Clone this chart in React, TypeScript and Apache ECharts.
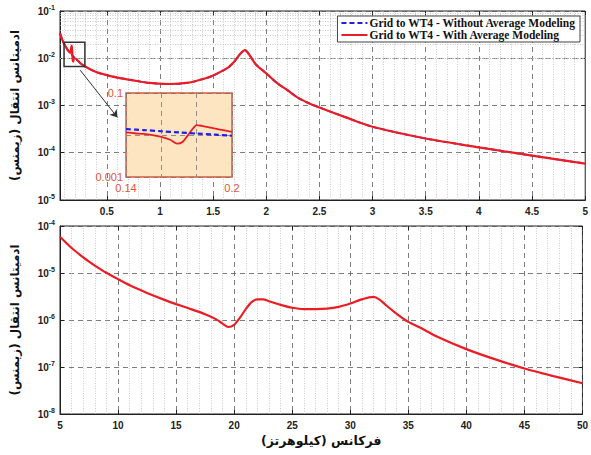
import React, { useEffect, useRef } from 'react';
import * as echarts from 'echarts';

// ---------- data ----------
const nameWithout = 'Grid to WT4 - Without Average Modeling';
const nameWith = 'Grid to WT4 - With Average Modeling';

// top panel (kHz)
const topFreq = [0.06, 0.08, 0.1, 0.12, 0.14, 0.155, 0.165, 0.17, 0.175, 0.18, 0.185, 0.19, 0.2, 0.25, 0.3, 0.4, 0.5, 0.6, 0.75, 0.9, 1.0, 1.1, 1.25, 1.4, 1.5, 1.6, 1.65, 1.7, 1.75, 1.8, 1.85, 1.9, 2.0, 2.1, 2.2, 2.3, 2.4, 2.5, 2.75, 3.0, 3.5, 4.0, 4.5, 5.0];
const topWithout = [3.4e-2, 2.5e-2, 2.0e-2, 1.66e-2, 1.41e-2, 1.3e-2, 1.23e-2, 1.2e-2, 1.16e-2, 1.13e-2, 1.1e-2, 1.07e-2, 1.0e-2, 7.9e-3, 6.6e-3, 5.1e-3, 4.4e-3, 3.9e-3, 3.4e-3, 3.0e-3, 2.9e-3, 2.85e-3, 3.0e-3, 3.6e-3, 4.3e-3, 5.6e-3, 6.6e-3, 8.5e-3, 1.2e-2, 1.48e-2, 1.1e-2, 7.5e-3, 4.8e-3, 3.0e-3, 2.1e-3, 1.45e-3, 1.12e-3, 9.1e-4, 5.6e-4, 3.55e-4, 2.0e-4, 1.3e-4, 8.7e-5, 5.9e-5];
const topWith = [3.4e-2, 2.5e-2, 2.0e-2, 1.66e-2, 1.41e-2, 1.3e-2, 1.65e-2, 1.85e-2, 1.4e-2, 9.0e-3, 8.5e-3, 1.0e-2, 1.0e-2, 7.9e-3, 6.6e-3, 5.1e-3, 4.4e-3, 3.9e-3, 3.4e-3, 3.0e-3, 2.9e-3, 2.85e-3, 3.0e-3, 3.6e-3, 4.3e-3, 5.6e-3, 6.6e-3, 8.5e-3, 1.2e-2, 1.48e-2, 1.1e-2, 7.5e-3, 4.8e-3, 3.0e-3, 2.1e-3, 1.45e-3, 1.12e-3, 9.1e-4, 5.6e-4, 3.55e-4, 2.0e-4, 1.3e-4, 8.7e-5, 5.9e-5];

// bottom panel (kHz)
const bottomFreq = [5, 6, 7, 7.5, 8, 9, 10, 11, 12.5, 14, 15, 16, 17.5, 18.5, 19, 19.5, 20, 20.5, 21, 21.5, 22, 22.5, 23, 24, 25, 26, 27, 28, 29, 30, 31, 32, 32.5, 33, 34, 35, 36, 37.5, 40, 42.5, 45, 47.5, 50];
const bottomWith = [5.9e-5, 3.4e-5, 2.15e-5, 1.75e-5, 1.44e-5, 1.01e-5, 7.4e-6, 5.5e-6, 3.77e-6, 2.68e-6, 2.18e-6, 1.8e-6, 1.33e-6, 1.02e-6, 8.4e-7, 7.1e-7, 7.9e-7, 1.12e-6, 1.7e-6, 2.4e-6, 2.75e-6, 2.75e-6, 2.5e-6, 2.1e-6, 1.82e-6, 1.7e-6, 1.7e-6, 1.74e-6, 1.9e-6, 2.24e-6, 2.75e-6, 3.1e-6, 2.75e-6, 2.15e-6, 1.35e-6, 9.1e-7, 6.9e-7, 4.4e-7, 2.4e-7, 1.45e-7, 9.3e-8, 6.4e-8, 4.5e-8];

// inset (zoom of 0.14 .. 0.2 kHz)
const insetFreqBlue = [0.14, 0.15, 0.16, 0.17, 0.18, 0.19, 0.2];
const insetWithout = [0.0139, 0.0131, 0.0123, 0.0115, 0.0108, 0.0102, 0.0096];
const insetFreqRed = [0.14, 0.145, 0.15, 0.155, 0.16, 0.165, 0.169, 0.172, 0.175, 0.178, 0.18, 0.183, 0.187, 0.19, 0.195, 0.2];
const insetWith = [0.0116, 0.011, 0.0106, 0.0099, 0.009, 0.0077, 0.0062, 0.0068, 0.0098, 0.0145, 0.0172, 0.0165, 0.0152, 0.0143, 0.013, 0.0118];

// zoom box and arrow annotation (data coordinates of the top panel)
const zoomBoxX = [0.098, 0.294];
const zoomBoxY = [0.0218, 0.0067];
const arrowX = [0.25, 0.6];
const arrowY = [0.0056, 0.00056];

// axis structure
const topDecades = [-5, -4, -3, -2];
const bottomDecades = [-8, -7, -6, -5];
const mantissas = [2, 3, 4, 5, 6, 7, 8, 9];
const topXMinor = [0.1, 0.2, 0.3, 0.4, 0.6, 0.7, 0.8, 0.9, 1.1, 1.2, 1.3, 1.4, 1.6, 1.7, 1.8, 1.9, 2.1, 2.2, 2.3, 2.4, 2.6, 2.7, 2.8, 2.9, 3.1, 3.2, 3.3, 3.4, 3.6, 3.7, 3.8, 3.9, 4.1, 4.2, 4.3, 4.4, 4.6, 4.7, 4.8, 4.9];
const bottomXMinor = [6, 7, 8, 9, 11, 12, 13, 14, 16, 17, 18, 19, 21, 22, 23, 24, 26, 27, 28, 29, 31, 32, 33, 34, 36, 37, 38, 39, 41, 42, 43, 44, 46, 47, 48, 49];

// ---------- styling ----------
const RED = '#ec1c24';
const BLUE = '#1f1fe8';
const INSET_RED = '#e0553a';
const SANS = 'Liberation Sans, Arial, sans-serif';
const FA = 'DejaVu Sans, Noto Sans, sans-serif';

const zip = (xs: number[], ys: number[]) => xs.map((x, i) => [x, ys[i]]);
const minorY = (decs: number[]) => decs.flatMap((d) => mantissas.map((m) => m * Math.pow(10, d)));

const minorLines = (xs: number[], ys: number[]) => ({
  silent: true,
  symbol: 'none',
  z: 1,
  animation: false,
  label: { show: false },
  emphasis: { disabled: true },
  lineStyle: { color: '#b4b4b4', type: [1, 1.5], width: 0.7 },
  data: [...xs.map((v) => ({ xAxis: v })), ...ys.map((v) => ({ yAxis: v }))],
});

const expLabel = {
  formatter: (v: number) => `{b|10}{s|${Math.round(Math.log10(v))}}`,
  margin: 5,
  rich: {
    b: { fontSize: 10, fontWeight: 'bold', fontFamily: SANS, color: '#222' },
    s: { fontSize: 7, fontWeight: 'bold', fontFamily: SANS, color: '#222', padding: [0, 0, 8, 0] },
  },
};

const majorSplit = { show: true, lineStyle: { color: '#5c5c5c', type: [5, 4], width: 0.8 } };
const tickStyle = { show: true, inside: true, length: 4, lineStyle: { color: '#222' } };
const axisLine = { show: true, onZero: false, lineStyle: { color: '#222', width: 1 } };
const xLabel = { fontSize: 10, fontWeight: 'bold', fontFamily: SANS, color: '#222', margin: 6 };

const yName = 'ادمیتانس انتقال (زیمنس)\u200F';
const xName = 'فرکانس (کیلوهرتز)\u200F';
const nameStyle = { fontFamily: FA, fontWeight: 'bold', fontSize: 12, color: '#111' };

// mirror axes that only carry tick marks (box style)
const tickOnlyX = (gridIndex: number, min: number, max: number, extra: any) => ({
  gridIndex, type: 'value', position: 'top', min, max, ...extra,
  axisLine: { show: false }, axisTick: tickStyle, splitLine: { show: false }, axisLabel: { show: false },
});
const tickOnlyY = (gridIndex: number, min: number, max: number) => ({
  gridIndex, type: 'log', logBase: 10, position: 'right', min, max,
  axisLine: { show: false }, axisTick: tickStyle, splitLine: { show: false }, axisLabel: { show: false },
});

export default function App() {
  const ref = useRef<HTMLDivElement>(null);

  useEffect(() => {
    if (!ref.current) return;
    const chart = echarts.init(ref.current, undefined, { renderer: 'svg' });

    const option: any = {
      animation: false,
      backgroundColor: '#fff',
      grid: [
        { left: 60, top: 11, width: 529, height: 189, show: true, borderColor: '#222', borderWidth: 1, backgroundColor: 'transparent' },
        { left: 60, top: 226, width: 529, height: 188, show: true, borderColor: '#222', borderWidth: 1, backgroundColor: 'transparent' },
        { left: 126, top: 93, width: 106, height: 84, show: true, backgroundColor: '#fde5c2', borderColor: INSET_RED, borderWidth: 1.5, z: 10 },
      ],
      legend: {
        data: [nameWithout, nameWith],
        orient: 'vertical',
        right: 11,
        top: 16,
        backgroundColor: '#fff',
        borderColor: '#444',
        borderWidth: 1,
        padding: [1, 4, 1, 3],
        itemGap: 0,
        itemWidth: 26,
        itemHeight: 11,
        z: 20,
        itemStyle: { opacity: 0 },
        textStyle: { fontFamily: 'Liberation Serif, Times New Roman, serif', fontWeight: 'bold', fontSize: 11.5, color: '#111', padding: [0, 0, 0, -3] },
      },
      xAxis: [
        {
          gridIndex: 0, type: 'value', min: 0.06, max: 5, splitNumber: 10,
          axisLine, axisTick: tickStyle, splitLine: majorSplit,
          axisLabel: { ...xLabel, showMinLabel: false },
        },
        {
          gridIndex: 1, type: 'value', min: 5, max: 50, interval: 5,
          axisLine, axisTick: tickStyle, splitLine: majorSplit,
          axisLabel: xLabel,
          name: xName, nameLocation: 'middle', nameGap: 20, nameTextStyle: { ...nameStyle, fontSize: 12.5 },
        },
        {
          gridIndex: 2, type: 'value', min: 0.14, max: 0.2, interval: 0.02, z: 11,
          axisLine: { show: false }, axisTick: { show: false },
          splitLine: { show: true, lineStyle: { color: '#777', type: [5, 4], width: 0.8 } },
          axisLabel: {
            color: INSET_RED, fontSize: 11, fontFamily: SANS, margin: 5,
            formatter: (v: number) => (Math.abs(v - 0.14) < 1e-6 ? '0.14' : Math.abs(v - 0.2) < 1e-6 ? '0.2' : ''),
          },
        },
        tickOnlyX(0, 0.06, 5, { splitNumber: 10 }),
        tickOnlyX(1, 5, 50, { interval: 5 }),
      ],
      yAxis: [
        {
          gridIndex: 0, type: 'log', logBase: 10, min: 1e-5, max: 1e-1,
          axisLine, axisTick: tickStyle, splitLine: majorSplit, axisLabel: expLabel,
          name: yName, nameLocation: 'middle', nameGap: 39, nameTextStyle: nameStyle,
        },
        {
          gridIndex: 1, type: 'log', logBase: 10, min: 1e-8, max: 1e-4,
          axisLine, axisTick: tickStyle, splitLine: majorSplit, axisLabel: expLabel,
          name: yName, nameLocation: 'middle', nameGap: 39, nameTextStyle: nameStyle,
        },
        {
          gridIndex: 2, type: 'log', logBase: 10, min: 0.001, max: 0.1, z: 11,
          axisLine: { show: false }, axisTick: { show: false },
          splitLine: { show: true, lineStyle: { color: '#777', type: [5, 4], width: 0.8 } },
          axisLabel: {
            color: INSET_RED, fontSize: 11, fontFamily: SANS, margin: 3,
            formatter: (v: number) => (v < 0.0015 ? '0.001' : v > 0.05 ? '0.1' : ''),
          },
        },
        tickOnlyY(0, 1e-5, 1e-1),
        tickOnlyY(1, 1e-8, 1e-4),
      ],
      series: [
        {
          name: nameWithout, type: 'line', xAxisIndex: 0, yAxisIndex: 0,
          data: zip(topFreq, topWithout), showSymbol: false, symbol: 'none', smooth: 0.3, z: 2,
          lineStyle: { color: BLUE, width: 1.8, type: [5, 3] }, itemStyle: { color: BLUE },
          markLine: minorLines(topXMinor, minorY(topDecades)),
        },
        {
          name: nameWith, type: 'line', xAxisIndex: 0, yAxisIndex: 0,
          data: zip(topFreq, topWith), showSymbol: false, symbol: 'none', smooth: 0.3, z: 3,
          lineStyle: { color: RED, width: 2.2 }, itemStyle: { color: RED },
          markArea: {
            silent: true, z: 4,
            itemStyle: { color: 'rgba(0,0,0,0)', borderColor: '#333', borderWidth: 1.5 },
            data: [[{ xAxis: zoomBoxX[0], yAxis: zoomBoxY[0] }, { xAxis: zoomBoxX[1], yAxis: zoomBoxY[1] }]],
          },
          markLine: {
            silent: true, z: 4, symbol: ['none', 'arrow'], symbolSize: 7,
            label: { show: false },
            lineStyle: { color: '#333', width: 1, type: 'solid' },
            data: [[{ coord: [arrowX[0], arrowY[0]] }, { coord: [arrowX[1], arrowY[1]] }]],
          },
        },
        {
          name: nameWith, type: 'line', xAxisIndex: 1, yAxisIndex: 1,
          data: zip(bottomFreq, bottomWith), showSymbol: false, symbol: 'none', smooth: 0.25, z: 3,
          lineStyle: { color: RED, width: 2.2 }, itemStyle: { color: RED },
          markLine: minorLines(bottomXMinor, minorY(bottomDecades)),
        },
        {
          name: nameWith, type: 'line', xAxisIndex: 2, yAxisIndex: 2,
          data: zip(insetFreqRed, insetWith), showSymbol: false, symbol: 'none', smooth: 0.3, z: 12,
          lineStyle: { color: RED, width: 1.8 }, itemStyle: { color: RED },
        },
        {
          name: nameWithout, type: 'line', xAxisIndex: 2, yAxisIndex: 2,
          data: zip(insetFreqBlue, insetWithout), showSymbol: false, symbol: 'none', smooth: 0.3, z: 13,
          lineStyle: { color: BLUE, width: 2.2, type: [5, 3] }, itemStyle: { color: BLUE },
        },
      ],
    };

    chart.setOption(option);
    return () => chart.dispose();
  }, []);

  return <div ref={ref} style={{ width: 591, height: 455, position: 'absolute', left: 0, top: 0 }} />;
}
